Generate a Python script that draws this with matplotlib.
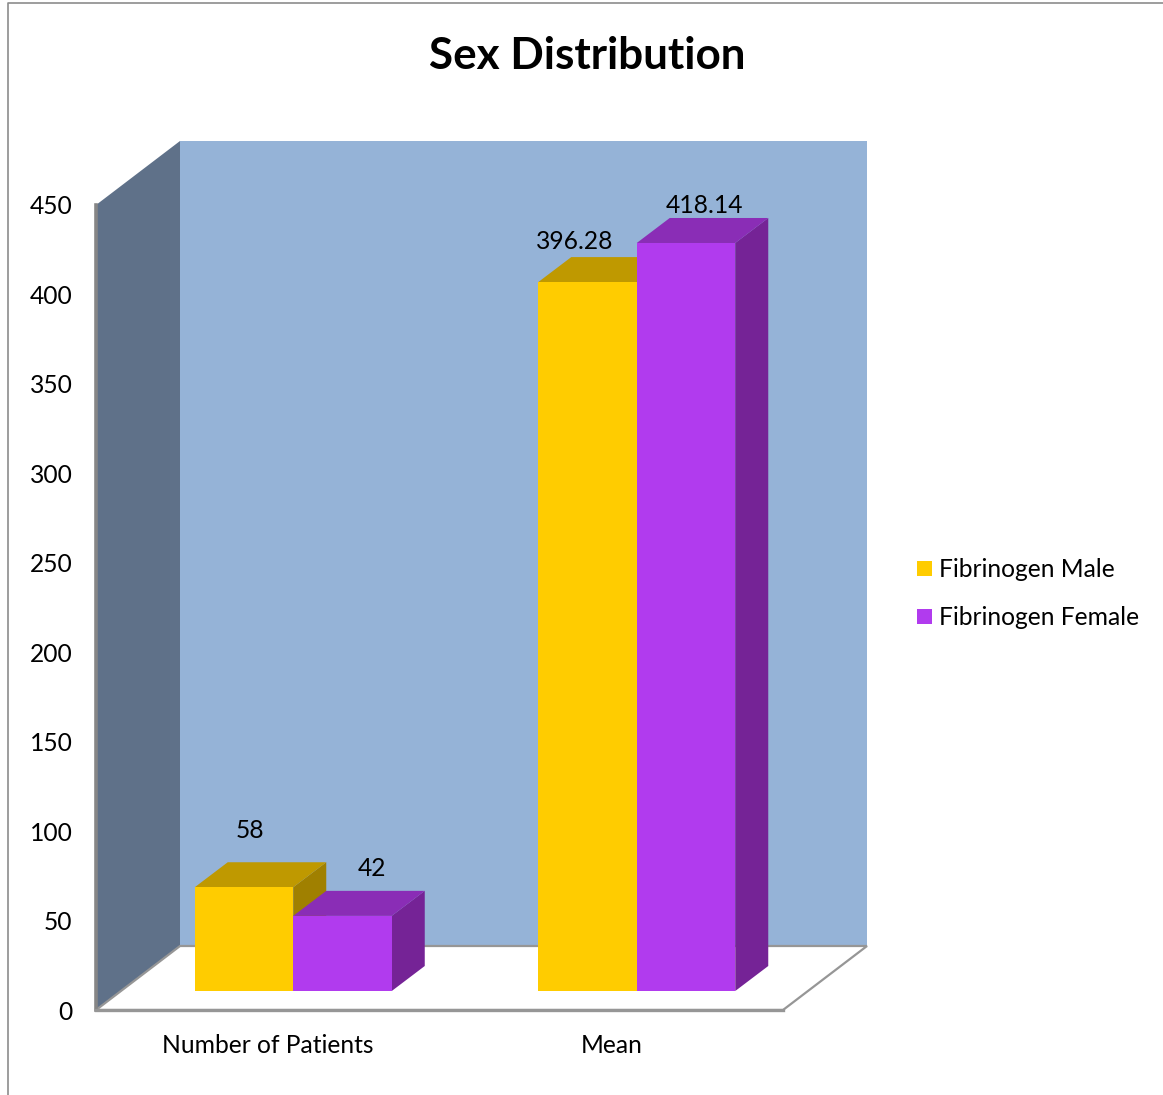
import matplotlib
matplotlib.use('Agg')
import matplotlib.pyplot as plt
from matplotlib.patches import Polygon, Rectangle

categories = ['Number of Patients', 'Mean']
series_names = ['Fibrinogen Male', 'Fibrinogen Female']
male = [58, 396.28]
female = [42, 418.14]
male_labels = ['58', '396.28']
female_labels = ['42', '418.14']
yticks = [0, 50, 100, 150, 200, 250, 300, 350, 400, 450]

W, H = 1163, 1095
plt.rcParams['font.family'] = ['Lato', 'DejaVu Sans']
FS = 17.7

fig = plt.figure(figsize=(W / 100, H / 100), dpi=100)
# front edge of the 3D box, in figure pixels
left, right, top, bottom = 96, 783, 205, 1010
ax = fig.add_axes([left / W, 1 - bottom / H, (right - left) / W, (bottom - top) / H])
ax.set_xlim(-0.5, 1.5)
ax.set_ylim(0, 450)
ax.patch.set_visible(False)
for s in ax.spines.values():
    s.set_visible(False)

ux = (right - left) / 2   # pixels per category
uy = (bottom - top) / 450  # pixels per value unit


def shift(dx, dy):
    return dx / ux, -dy / uy


def poly(pts, **kw):
    ax.add_patch(Polygon(pts, closed=True, clip_on=False, **kw))


# box walls and floor
bx, by = shift(84, -64)
poly([(-0.5, 0), (-0.5 + bx, by), (-0.5 + bx, 450 + by), (-0.5, 450)],
     fc='#5F7189', ec='none', zorder=1)
poly([(-0.5 + bx, by), (1.5 + bx, by), (1.5 + bx, 450 + by), (-0.5 + bx, 450 + by)],
     fc='#95B3D7', ec='none', zorder=1)
poly([(-0.5, 0), (1.5, 0), (1.5 + bx, by), (-0.5 + bx, by)],
     fc='white', ec='#969696', lw=1.6, zorder=2)
ax.plot([-0.5, -0.5], [0, 450], color='#868686', lw=2.6, clip_on=False, zorder=3)
ax.plot([-0.5, 1.5], [0, 0], color='#969696', lw=2.4, clip_on=False, zorder=3)

# bars sit part way into the box
ox, oy = shift(25.5, -19)
dx, dy = shift(33, -25)
bar_w = 98.5 / ux

faces = ['#FFCC00', '#B13BEE']
sides = ['#A08000', '#752396']
tops = ['#BF9900', '#8A2DB6']
# label offsets from the middle of each bar's front top edge, in pixels
male_off = [(6, 57), (-13, 41)]
female_off = [(29, 47), (18, 37)]


def bar3d(x0, h, face, side, roof):
    x1 = x0 + bar_w
    poly([(x0, oy), (x1, oy), (x1, oy + h), (x0, oy + h)], fc=face, ec='none', zorder=5)
    poly([(x1, oy), (x1 + dx, oy + dy), (x1 + dx, oy + dy + h), (x1, oy + h)],
         fc=side, ec='none', zorder=4)
    poly([(x0, oy + h), (x1, oy + h), (x1 + dx, oy + h + dy), (x0 + dx, oy + h + dy)],
         fc=roof, ec='none', zorder=4)


for i in range(2):
    xm = i + ox - bar_w
    bar3d(xm, male[i], faces[0], sides[0], tops[0])
    bar3d(xm + bar_w, female[i], faces[1], sides[1], tops[1])
    # value labels above each bar
    ax.annotate(male_labels[i], (xm + bar_w / 2, male[i] + oy), xytext=male_off[i],
                textcoords='offset pixels', ha='center', va='center', fontsize=FS,
                color='black', zorder=8, annotation_clip=False)
    ax.annotate(female_labels[i], (xm + 1.5 * bar_w, female[i] + oy), xytext=female_off[i],
                textcoords='offset pixels', ha='center', va='center', fontsize=FS,
                color='black', zorder=8, annotation_clip=False)

ax.set_xticks([0, 1], categories, fontsize=FS)
ax.set_yticks(yticks, [str(v) for v in yticks], fontsize=FS)
ax.tick_params(length=0)
ax.tick_params(axis='x', pad=17)
ax.tick_params(axis='y', pad=17)

fig.text(587 / W, 1 - 56 / H, 'Sex Distribution', ha='center', va='center',
         fontsize=31.7, fontweight='bold')

# legend
for y, name, c in zip([568, 616], series_names, faces):
    fig.add_artist(Rectangle((917 / W, 1 - (y + 7.5) / H), 15 / W, 15 / H,
                             transform=fig.transFigure, fc=c, ec='none'))
    fig.text(939 / W, 1 - (y + 1.5) / H, name, ha='left', va='center', fontsize=FS)

# chart border
fig.add_artist(plt.Line2D([8 / W, 8 / W, 1], [0, 1 - 3 / H, 1 - 3 / H],
                          transform=fig.transFigure, color='#8C8C8C', lw=1.2))

fig.savefig('out.png', dpi=100, facecolor='white')
